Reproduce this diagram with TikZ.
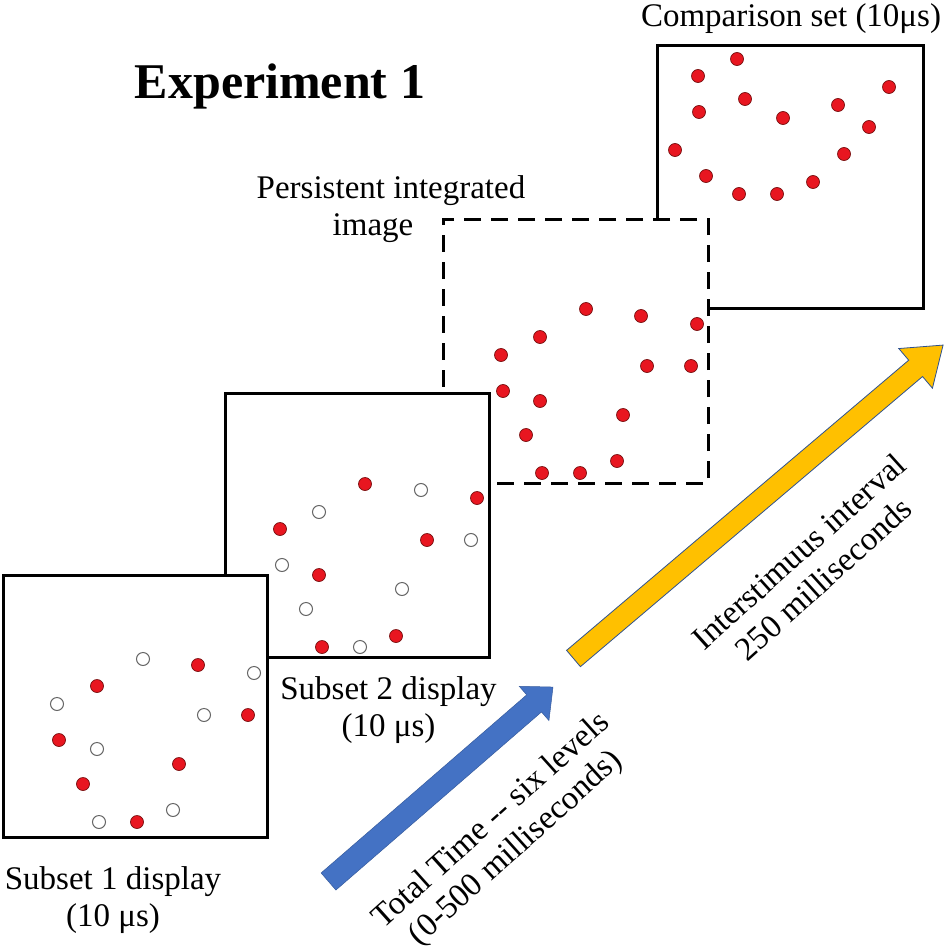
\documentclass[tikz,border=0pt]{standalone}
\usepackage{fontspec}
\setmainfont{Liberation Serif}
\definecolor{dotred}{RGB}{232,22,32}
\definecolor{dotrim}{RGB}{120,15,15}
\definecolor{arrblue}{RGB}{68,114,196}
\definecolor{arryel}{RGB}{255,192,0}
\definecolor{arrrim}{RGB}{47,82,143}
\begin{document}
\begin{tikzpicture}[x=1pt,y=-1pt,
  panel/.style={draw=black, fill=white, line width=3pt, inner sep=0pt, outer sep=0pt},
  rd/.style={circle, fill=dotred, draw=dotrim, line width=0.7pt, minimum size=13pt, inner sep=0pt},
  wd/.style={circle, fill=white, draw=black!60, line width=1pt, minimum size=13pt, inner sep=0pt},
  lbl/.style={font=\fontsize{33}{37}\selectfont, align=center, inner sep=0pt},
  blockarrow/.style={line width=0.8pt, draw=arrrim, line join=miter}
]
\useasboundingbox (0,0) rectangle (950,950);

% Comparison set
\node[panel, minimum width=266pt, minimum height=262pt] (p4) at (790,177) {};
\foreach \x/\y [count=\i] in {737/59,698/76,889/87,745/99,699/112,838/105,783/118,869/127,675/150,844/154,706/176,813/182,739/194,777/194}
  \node[rd] (c\i) at (\x,\y) {};

% Persistent integrated image
\node[panel, dash pattern=on 17pt off 10pt, minimum width=265pt, minimum height=264pt] (p3) at (575.5,351) {};
\foreach \x/\y [count=\i] in {586/309,641/316,697/324,540/337,501/355,647/366,691/366,503/391,540/401,623/415,526/435,617/461,542/473,580/473}
  \node[rd] (g\i) at (\x,\y) {};

% Subset 2
\node[panel, minimum width=264pt, minimum height=264pt] (p2) at (357,525) {};
\foreach \x/\y [count=\i] in {365/484,477/498,280/529,427/540,319/575,396/636,322/647}
  \node[rd] (br\i) at (\x,\y) {};
\foreach \x/\y [count=\i] in {421/490,319/512,471/540,282/565,402/589,306/609,360/647}
  \node[wd] (bw\i) at (\x,\y) {};

% Subset 1
\node[panel, minimum width=264pt, minimum height=262pt] (p1) at (135,706) {};
\foreach \x/\y [count=\i] in {97/686,198/665,248/715,59/740,179/764,83/784,137/822}
  \node[rd] (ar\i) at (\x,\y) {};
\foreach \x/\y [count=\i] in {143/659,57/704,254/673,204/715,97/749,173/810,99/822}
  \node[wd] (aw\i) at (\x,\y) {};

% blue arrow
\begin{scope}[shift={(328.5,881.5)}, rotate=40.9]
  \draw[blockarrow, fill=arrblue, draw=arrblue!80!black, line width=0.5pt] (0,-11.3) -- (272,-11.3) -- (272,-22.7) -- (297,0) -- (272,22.7) -- (272,11.3) -- (0,11.3) -- cycle;
\end{scope}

% yellow arrow
\begin{scope}[shift={(573.5,658.5)}, rotate=40.3]
  \draw[blockarrow, fill=arryel] (0,-10.7) -- (448.6,-10.7) -- (448.6,-26) -- (484.6,0) -- (448.6,26) -- (448.6,10.7) -- (0,10.7) -- cycle;
\end{scope}

% texts
\node[font=\fontsize{50}{55}\selectfont\bfseries, anchor=base, inner sep=0pt] (title) at (280,99) {Experiment 1};
\node[lbl, anchor=base] (cmp) at (791,27) {Comparison set (10μs)};
\node[lbl] (pii) at (391,209.4) {Persistent integrated\\image\hspace*{36pt}};
\node[lbl] (s2l) at (388.5,709.8) {Subset 2 display\\(10 μs)};
\node[lbl] (s1l) at (113,899.8) {Subset 1 display\\(10 μs)};
\node[lbl, rotate=42] (ttl) at (504,835) {Total Time -\kern0pt- six levels\\(0-500 milliseconds)};
\node[lbl, rotate=42] (isi) at (811,565) {Interstimuus interval\\250 milliseconds};
\end{tikzpicture}
\end{document}
